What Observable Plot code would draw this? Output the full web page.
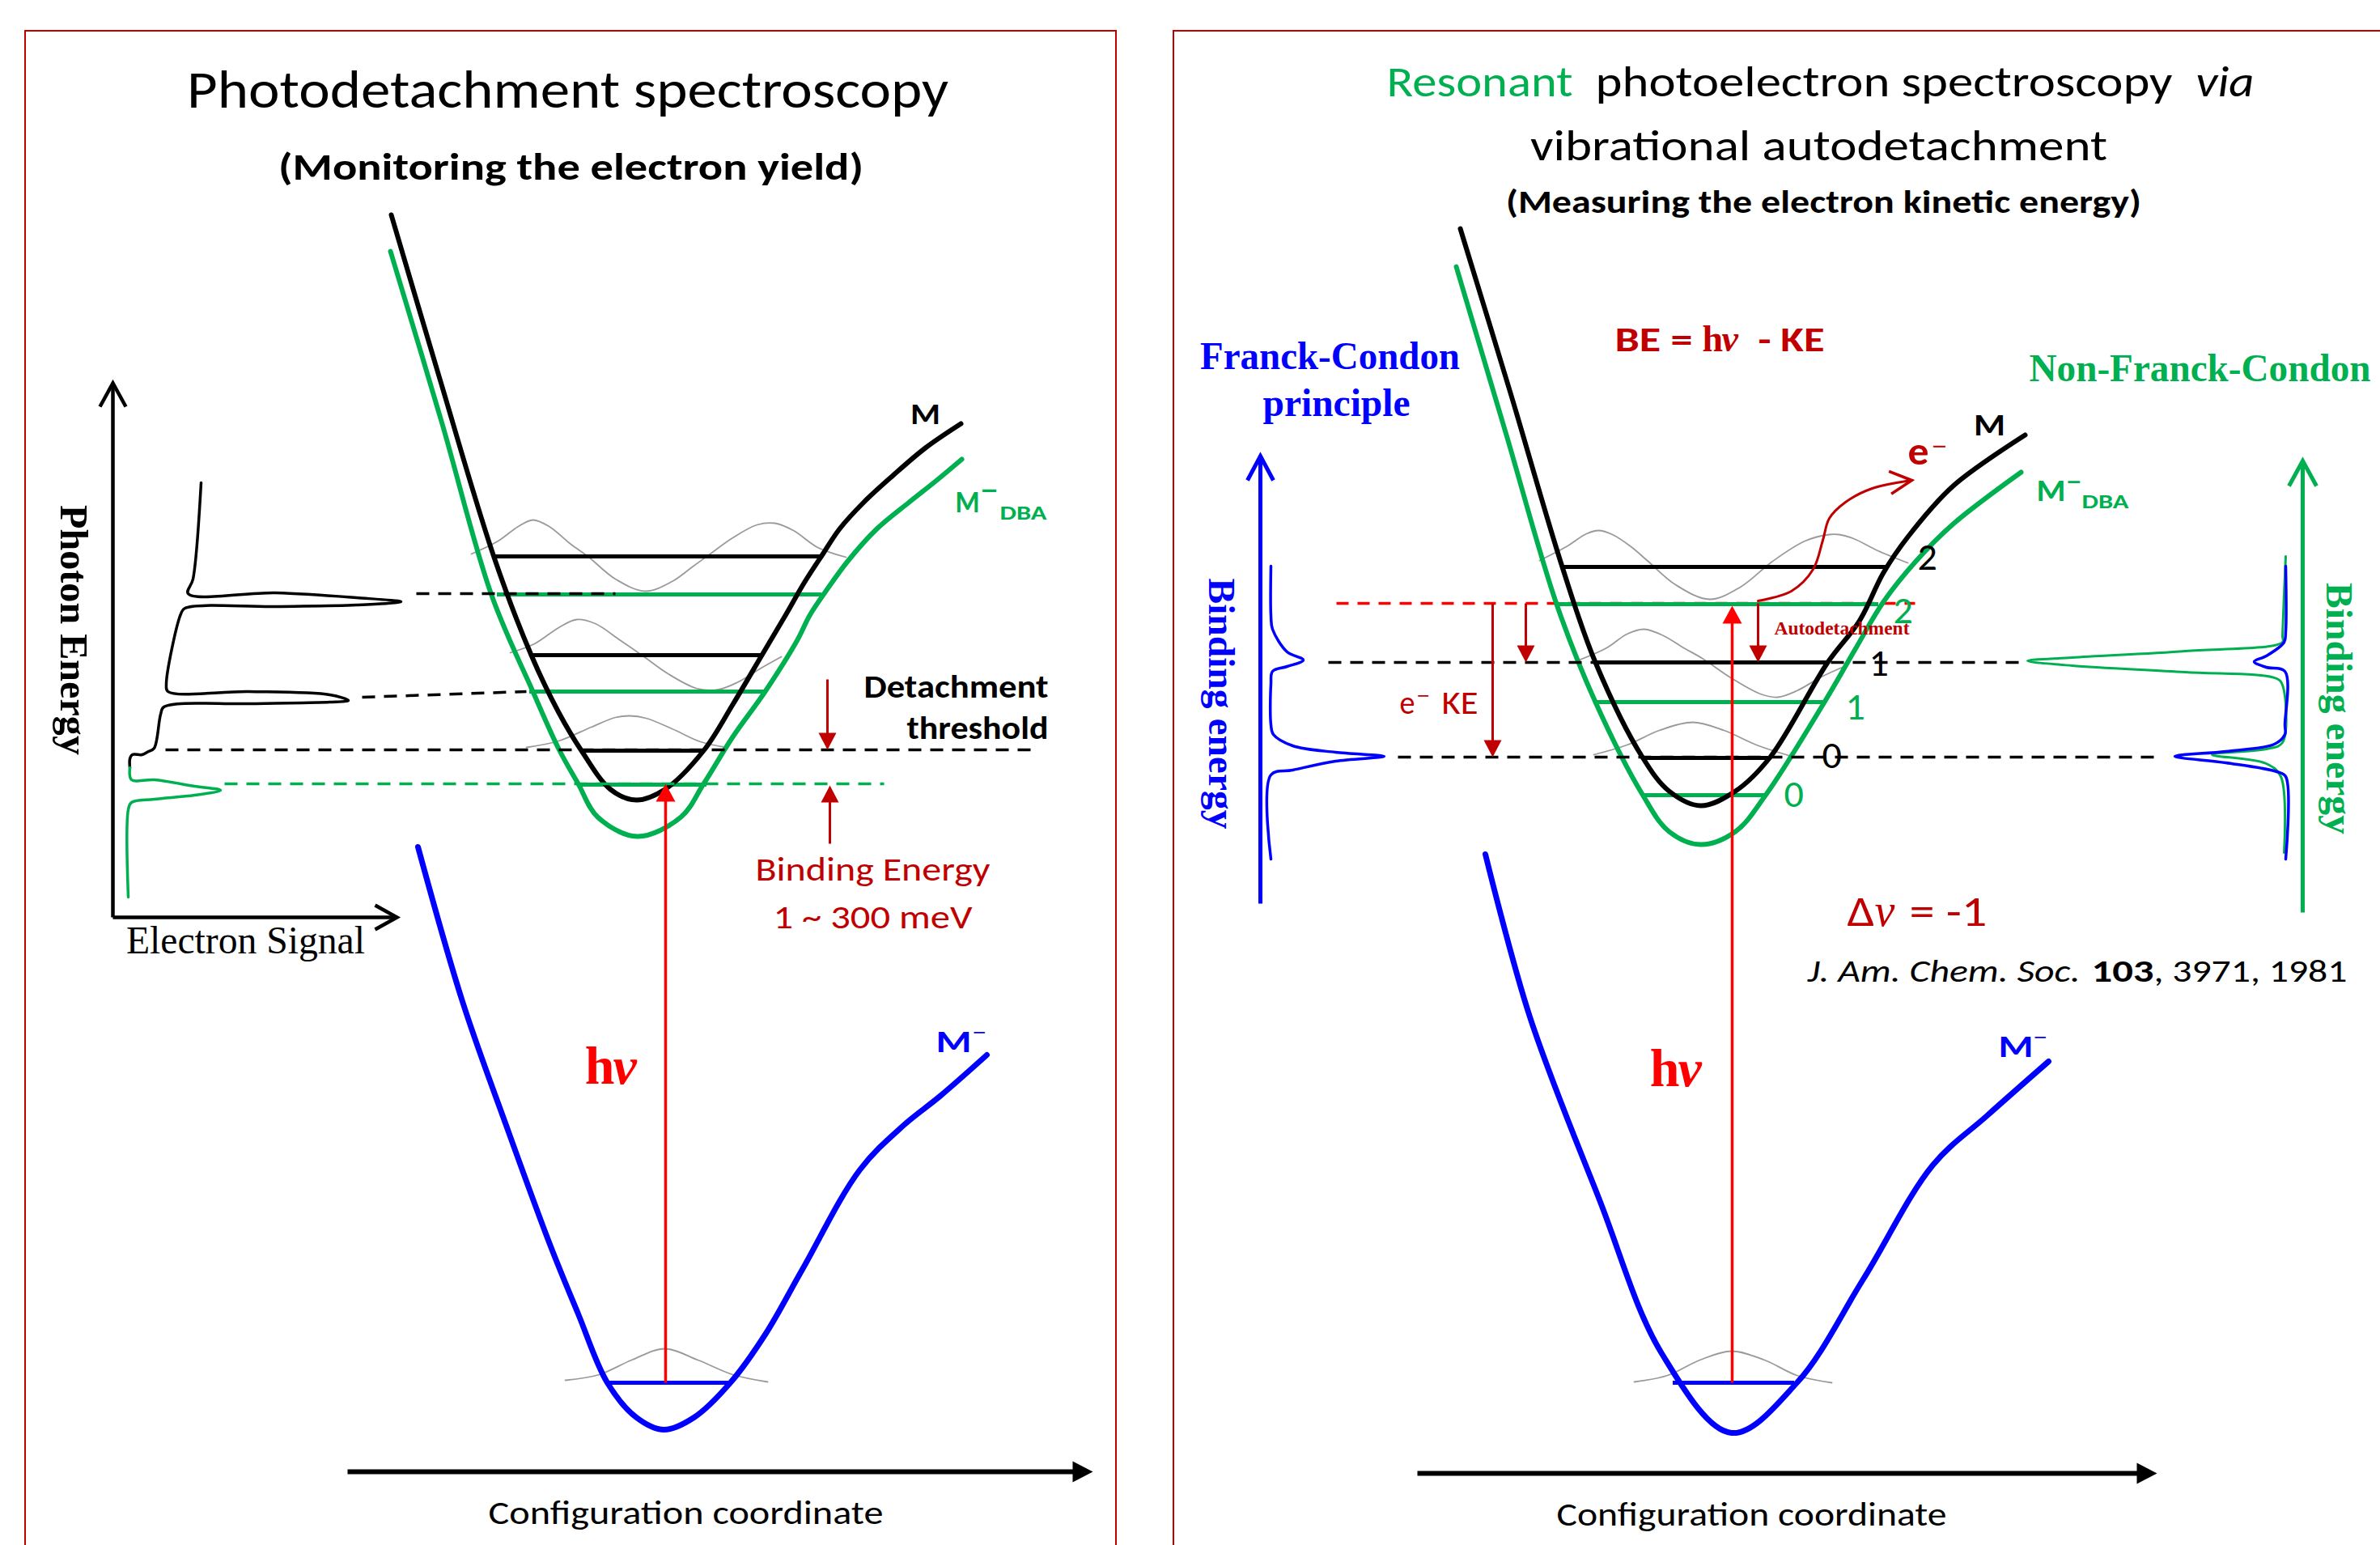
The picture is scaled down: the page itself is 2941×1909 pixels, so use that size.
<!DOCTYPE html>
<html><head><meta charset="utf-8">
<script src="https://cdn.jsdelivr.net/npm/d3@7"></script>
<script src="https://cdn.jsdelivr.net/npm/@observablehq/plot@0.6"></script>
<style>body{margin:0;background:#fff}</style>
</head><body><div id="chart"></div>
<script>
// ---------- DATA (diagram coordinates) ----------
// Left panel: potential curves
const leftNeutral = [[483,265],[541,461],[610,688],[656,809],[690,880],[718,927],[754,975],[786,988],[821,975],[869,927],[905,870],[941,809],[970,760],[993,720],[1017,683],[1037,653],[1067,620],[1103,587],[1143,553],[1187,523]];
const leftDBA = [[482,310],[545,520],[607,735],[658,854],[690,925],[714,968],[738,1009],[787,1033],[841,1009],[869,968],[905,910],[945,854],[985,790],[1000,760],[1020,730],[1047,693],[1083,653],[1123,620],[1157,593],[1188,567]];
const leftAnion = [[516,1046],[571,1237],[625,1390],[679,1537],[714,1623],[750,1708],[786,1751],[820,1766],[857,1751],[902,1708],[946,1647],[991,1568],[1062,1445],[1116,1390],[1161,1354],[1219,1303]];
// Right panel: potential curves
const rightNeutral = [[1804,282],[1866,485],[1930,700],[1971,818],[2029,935],[2062,977],[2101,995],[2144,977],[2187,935],[2258,818],[2297,767],[2327,707],[2357,663],[2413,600],[2502,537]];
const rightDBA = [[1799,329],[1861,537],[1923,746],[1971,867],[2029,981],[2062,1027],[2101,1043],[2144,1027],[2182,981],[2254,867],[2293,800],[2327,743],[2367,693],[2413,647],[2497,583]];
const rightAnion = [[1835,1055],[1890,1256],[1976,1482],[2053,1672],[2139,1770],[2220,1708],[2302,1580],[2388,1439],[2455,1378],[2531,1311]];
// Vibrational levels {y, x1, x2}
const levelsNeutral = [{y:687,x1:610,x2:1013},{y:809,x1:658,x2:941},{y:927,x1:718,x2:869},
                       {y:700,x1:1930,x2:2330},{y:818,x1:1971,x2:2258},{y:936,x1:2029,x2:2187}];
const levelsDBA = [{y:734,x1:614,x2:1015},{y:854,x1:654,x2:945},{y:969,x1:718,x2:873},
                   {y:746,x1:1923,x2:2321},{y:867,x1:1971,x2:2254},{y:982,x1:2029,x2:2182}];
const levelsAnion = [{y:1708,x1:748,x2:904},{y:1708,x1:2067,x2:2217}];
// Vibrational wavefunctions (grey)
const wavefunctions = [
  [[582,684],[615,668],[640,650],[658,642],[678,650],[705,672],[726,687],[760,715],[797,730],[830,718],[855,700],[877,684],[905,664],[935,648],[957,646],[980,655],[1010,676],[1045,688]],
  [[630,806],[660,795],[690,775],[712,765],[735,770],[765,790],[794,810],[825,832],[860,850],[885,852],[910,843],[940,825],[965,811]],
  [[650,923],[690,915],[730,898],[760,886],[778,884],[798,887],[830,900],[865,916],[897,923]],
  [[698,1705],[740,1698],[780,1680],[821,1666],[862,1680],[905,1698],[948,1707]],
  [[1902,692],[1935,675],[1960,659],[1975,655],[1992,660],[2015,675],[2036,693],[2070,722],[2112,740],[2150,725],[2190,693],[2230,668],[2260,660],[2272,660],[2290,665],[2320,680],[2357,695]],
  [[1951,815],[1985,800],[2010,783],[2031,777],[2055,785],[2080,800],[2103,813],[2140,838],[2175,857],[2196,861],[2220,853],[2250,836],[2281,822]],
  [[1969,932],[2010,920],[2050,902],[2091,892],[2130,902],[2170,920],[2210,933]],
  [[2019,1707],[2060,1699],[2100,1680],[2139,1669],[2180,1680],[2220,1699],[2263,1708]]
];
// Spectra
const yieldBlack = [[248,596],[238,715],[232,733],[340,732],[440,738],[495,743],[440,747],[340,749],[228,751],[223,758],[205,845],[207,854],[307,854],[407,858],[430,865],[407,867],[307,869],[202,873],[198,882],[190,924],[183,928],[175,932],[163,932],[160,937],[160,948]];
const yieldGreen = [[160,948],[162,963],[190,963],[240,971],[272,976],[240,982],[190,987],[162,991],[158,1000],[158,1108]];
const fcBlue = [[1570,699],[1570,760],[1572,777],[1590,805],[1610,815],[1590,823],[1572,829],[1570,845],[1570,895],[1573,907],[1597,921],[1650,929],[1710,934],[1650,940],[1597,951],[1570,957],[1570,1061]];
const nfcBlue = [[2824,699],[2824,780],[2822,793],[2800,810],[2785,817],[2800,824],[2823,829],[2823,895],[2823,907],[2810,919],[2750,928],[2687,934],[2750,942],[2813,953],[2824,959],[2824,1061]];
const nfcGreen = [[2824,687],[2820,785],[2820,793],[2700,804],[2560,812],[2505,816],[2560,822],[2700,830],[2813,838],[2820,846],[2820,917],[2800,925],[2733,932],[2800,943],[2818,959],[2822,1053]];
// Dashed guide lines
const dashBlack = [{x1:514,y1:733,x2:760,y2:733},{x1:447,y1:861,x2:650,y2:854},{x1:204,y1:926,x2:1280,y2:926},
                   {x1:1641,y1:818,x2:2498,y2:818},{x1:1727,y1:935,x2:2670,y2:935}];
const dashGreen = [{x1:277,y1:968,x2:1092,y2:968}];
const dashRed = [{x1:1651,y1:745,x2:2366,y2:745}];
// Autodetachment electron path
const electronPath = [[2172,742],[2213,730],[2240,703],[2252,667],[2260,640],[2280,620],[2313,603],[2362,593]];
// Arrows
const hvArrows = [{x:822,y1:1708,y2:968},{x:2140,y1:1708,y2:748}];
const downArrows = [{x:1022,y1:839,y2:926},{x:2172,y1:745,y2:818},{x:1885,y1:745,y2:818},{x:1844,y1:745,y2:935}];
const upArrows = [{x:1025,y1:1042,y2:970}];
const configAxes = [{y:1818,x1:429,x2:1350},{y:1820,x1:1751,x2:2665}];
const energyAxesBlack = [{x:139,y1:1133,y2:473}];
const signalAxis = [{y:1133,x1:139,x2:490}];
const beAxisBlue = [{x:1557,y1:1116,y2:563}];
const beAxisGreen = [{x:2845,y1:1127,y2:569}];
const panels = [{x1:31,x2:1379,y1:38,y2:1960},{x1:1450,x2:2990,y1:38,y2:1960}];
const levelLabels = [{t:"2",x:2369,y:703,c:"#000"},{t:"2",x:2339,y:769,c:"#00b050"},{t:"1",x:2309,y:834,c:"#000"},
                     {t:"1",x:2280,y:888,c:"#00b050"},{t:"0",x:2251,y:948,c:"#000"},{t:"0",x:2204,y:996,c:"#00b050"}];

// ---------- STYLE ----------
const W = 2941, H = 1909;
const SANS = "Carlito, Lato, 'Open Sans', sans-serif";
const SERIF = "'Liberation Serif', 'DejaVu Serif', serif";
const GREEN = "#00b050", BLUE = "#0000ff", RED = "#ff0000", DRED = "#c00000", GREY = "#9a9a9a";

const X = d => d[0], Y = d => d[1];
const curve = (data, o) => Plot.line(data, {x: X, y: Y, curve: "catmull-rom", strokeLinejoin: "round", strokeLinecap: "round", ...o});

// arrowhead symbols with the tip at the anchor point
function head(angleDeg, len, half, closed) {
  const a = angleDeg * Math.PI / 180, ux = Math.cos(a), uy = Math.sin(a), px = -uy, py = ux;
  return {draw(ctx) {
    const bx = -ux * len, by = -uy * len;
    ctx.moveTo(bx + px * half, by + py * half);
    ctx.lineTo(0, 0);
    ctx.lineTo(bx - px * half, by - py * half);
    if (closed) ctx.closePath();
  }};
}
// text helper; w = rendered width in px (applied as textLength after rendering)
const label = (t, x, y, o, w) => Plot.text([t], {x: () => x, y: () => y, text: d => d, lineAnchor: "bottom", fontFamily: SANS, fill: "#000", ...o, ...(w ? {ariaDescription: "tl:" + w} : {})});

const marks = [
  Plot.rect(panels, {x1: "x1", x2: "x2", y1: "y1", y2: "y2", fill: "none", stroke: DRED, strokeWidth: 2}),
  ...wavefunctions.map(w => curve(w, {stroke: GREY, strokeWidth: 1.8})),
  Plot.link(dashRed, {x1: "x1", y1: "y1", x2: "x2", y2: "y2", stroke: RED, strokeWidth: 3.5, strokeDasharray: "15,11"}),
  Plot.ruleY(levelsNeutral, {y: "y", x1: "x1", x2: "x2", stroke: "#000", strokeWidth: 5}),
  Plot.ruleY(levelsDBA, {y: "y", x1: "x1", x2: "x2", stroke: GREEN, strokeWidth: 5}),
  Plot.ruleY(levelsAnion, {y: "y", x1: "x1", x2: "x2", stroke: BLUE, strokeWidth: 5}),
  curve(leftDBA, {stroke: GREEN, strokeWidth: 6}),
  curve(leftNeutral, {stroke: "#000", strokeWidth: 6}),
  curve(leftAnion, {stroke: BLUE, strokeWidth: 7}),
  curve(rightDBA, {stroke: GREEN, strokeWidth: 6}),
  curve(rightNeutral, {stroke: "#000", strokeWidth: 6}),
  curve(rightAnion, {stroke: BLUE, strokeWidth: 7}),
  Plot.link(dashBlack, {x1: "x1", y1: "y1", x2: "x2", y2: "y2", stroke: "#000", strokeWidth: 3.5, strokeDasharray: "16,11"}),
  Plot.link(dashGreen, {x1: "x1", y1: "y1", x2: "x2", y2: "y2", stroke: GREEN, strokeWidth: 3.5, strokeDasharray: "16,11"}),
  curve(yieldBlack, {stroke: "#000", strokeWidth: 3.5}),
  curve(yieldGreen, {stroke: GREEN, strokeWidth: 3.5}),
  curve(fcBlue, {stroke: BLUE, strokeWidth: 3.5}),
  curve(nfcGreen, {stroke: GREEN, strokeWidth: 3}),
  curve(nfcBlue, {stroke: BLUE, strokeWidth: 3.5}),
  Plot.link(energyAxesBlack, {x1: "x", x2: "x", y1: "y1", y2: "y2", stroke: "#000", strokeWidth: 4.5}),
  Plot.dot(energyAxesBlack, {x: "x", y: "y2", symbol: head(-90, 29, 16, false), fill: "none", stroke: "#000", strokeWidth: 4.5}),
  Plot.link(signalAxis, {x1: "x1", x2: "x2", y1: "y", y2: "y", stroke: "#000", strokeWidth: 4.5}),
  Plot.dot(signalAxis, {x: "x2", y: "y", symbol: head(0, 27, 15, false), fill: "none", stroke: "#000", strokeWidth: 4.5}),
  Plot.link(beAxisBlue, {x1: "x", x2: "x", y1: "y1", y2: "y2", stroke: BLUE, strokeWidth: 5}),
  Plot.dot(beAxisBlue, {x: "x", y: "y2", symbol: head(-90, 30, 16, false), fill: "none", stroke: BLUE, strokeWidth: 5}),
  Plot.link(beAxisGreen, {x1: "x", x2: "x", y1: "y1", y2: "y2", stroke: GREEN, strokeWidth: 5}),
  Plot.dot(beAxisGreen, {x: "x", y: "y2", symbol: head(-90, 31, 17, false), fill: "none", stroke: GREEN, strokeWidth: 5}),
  Plot.link(configAxes, {x1: "x1", x2: d => d.x2 - 12, y1: "y", y2: "y", stroke: "#000", strokeWidth: 6}),
  Plot.dot(configAxes, {x: "x2", y: "y", symbol: head(0, 25, 13, true), fill: "#000", stroke: "none"}),
  Plot.link(hvArrows, {x1: "x", x2: "x", y1: "y1", y2: d => d.y2 + 10, stroke: RED, strokeWidth: 3.5}),
  Plot.dot(hvArrows, {x: "x", y: "y2", symbol: head(-90, 22, 12, true), fill: RED, stroke: "none"}),
  Plot.link(downArrows, {x1: "x", x2: "x", y1: "y1", y2: d => d.y2 - 10, stroke: DRED, strokeWidth: 3}),
  Plot.dot(downArrows, {x: "x", y: "y2", symbol: head(90, 21, 11, true), fill: DRED, stroke: "none"}),
  Plot.link(upArrows, {x1: "x", x2: "x", y1: "y1", y2: d => d.y2 + 10, stroke: DRED, strokeWidth: 3}),
  Plot.dot(upArrows, {x: "x", y: "y2", symbol: head(-90, 21, 11, true), fill: DRED, stroke: "none"}),
  curve(electronPath, {stroke: DRED, strokeWidth: 3}),
  Plot.dot([electronPath[electronPath.length - 1]], {x: X, y: Y, symbol: head(-6, 27, 14, false), fill: "none", stroke: DRED, strokeWidth: 3.5}),

  // ---------- TEXT: left panel ----------
  label("Photodetachment spectroscopy", 701, 132, {fontSize: 66, textAnchor: "middle"}, 941),
  label("(Monitoring the electron yield)", 705, 221, {fontSize: 47, fontWeight: "bold", textAnchor: "middle"}, 723),
  label("M", 1143, 523, {fontSize: 36, fontWeight: "bold", textAnchor: "middle"}, 37),
  label("M", 1180, 632, {fontSize: 38, fontWeight: "bold", textAnchor: "start", fill: GREEN}, 30),
  label("\u2212", 1211, 616, {fontSize: 34, fontWeight: "bold", textAnchor: "start", fill: GREEN}, 22),
  label("DBA", 1235, 641, {fontSize: 25, fontWeight: "bold", textAnchor: "start", fill: GREEN}, 58),
  label("Detachment", 1295, 861, {fontSize: 41, fontWeight: "bold", textAnchor: "end"}, 228),
  label("threshold", 1295, 912, {fontSize: 41, fontWeight: "bold", textAnchor: "end"}, 175),
  label("Binding Energy", 1078, 1087, {fontSize: 42, textAnchor: "middle", fill: DRED}, 290),
  label("1 ~ 300 meV", 1078, 1146, {fontSize: 42, textAnchor: "middle", fill: DRED}, 246),
  label("Photon Energy", 90, 778, {fontSize: 48, fontFamily: SERIF, fontWeight: "bold", textAnchor: "middle", lineAnchor: "middle", rotate: 90}, 309),
  label("Electron Signal", 303, 1177, {fontSize: 48, fontFamily: SERIF, textAnchor: "middle"}, 295),
  label("h", 759, 1338, {fontSize: 66, fontFamily: SERIF, fontWeight: "bold", textAnchor: "end", fill: RED}),
  label("\u03bd", 757, 1338, {fontSize: 66, fontFamily: SERIF, fontWeight: "bold", fontStyle: "italic", textAnchor: "start", fill: RED}),
  label("M", 1156, 1299, {fontSize: 38, fontWeight: "bold", textAnchor: "start", fill: BLUE}, 44),
  label("\u2212", 1201, 1283, {fontSize: 26, textAnchor: "start", fill: BLUE}, 18),
  label("Configuration coordinate", 847, 1882, {fontSize: 42, textAnchor: "middle"}, 488),

  // ---------- TEXT: right panel ----------
  label("Resonant", 1713, 118, {fontSize: 53, textAnchor: "start", fill: GREEN}, 230),
  label("photoelectron spectroscopy", 1971, 118, {fontSize: 53, textAnchor: "start"}, 713),
  label("via", 2713, 118, {fontSize: 53, fontStyle: "italic", textAnchor: "start"}, 72),
  label("vibrational autodetachment", 2247, 197, {fontSize: 53, textAnchor: "middle"}, 713),
  label("(Measuring the electron kinetic energy)", 2253, 262, {fontSize: 40, fontWeight: "bold", textAnchor: "middle"}, 785),
  label("Franck-Condon", 1643, 455, {fontSize: 48, fontFamily: SERIF, fontWeight: "bold", textAnchor: "middle", fill: BLUE}, 321),
  label("principle", 1651, 513, {fontSize: 48, fontFamily: SERIF, fontWeight: "bold", textAnchor: "middle", fill: BLUE}, 182),
  label("BE =", 1995, 433, {fontSize: 42, fontWeight: "bold", textAnchor: "start", fill: DRED}, 96),
  label("h", 2103, 433, {fontSize: 46, fontFamily: SERIF, fontWeight: "bold", textAnchor: "start", fill: DRED}),
  label("\u03bd", 2127, 433, {fontSize: 46, fontFamily: SERIF, fontWeight: "bold", fontStyle: "italic", textAnchor: "start", fill: DRED}),
  label("- KE", 2172, 433, {fontSize: 42, fontWeight: "bold", textAnchor: "start", fill: DRED}, 82),
  label("Non-Franck-Condon", 2718, 470, {fontSize: 48, fontFamily: SERIF, fontWeight: "bold", textAnchor: "middle", fill: GREEN}, 422),
  label("M", 2458, 537, {fontSize: 38, fontWeight: "bold", textAnchor: "middle"}, 39),
  label("e", 2357, 573, {fontSize: 48, fontWeight: "bold", textAnchor: "start", fill: DRED}, 26),
  label("\u2212", 2386, 560, {fontSize: 30, textAnchor: "start", fill: DRED}, 20),
  label("M", 2516, 618, {fontSize: 38, fontWeight: "bold", textAnchor: "start", fill: GREEN}, 36),
  label("\u2212", 2553, 604, {fontSize: 30, fontWeight: "bold", textAnchor: "start", fill: GREEN}, 19),
  label("DBA", 2572, 627, {fontSize: 25, fontWeight: "bold", textAnchor: "start", fill: GREEN}, 58),
  Plot.text(levelLabels, {x: "x", y: "y", text: "t", fill: "c", fontSize: 48, fontFamily: SANS, textAnchor: "start", lineAnchor: "bottom"}),
  label("Autodetachment", 2192, 783, {fontSize: 24, fontFamily: SERIF, fontWeight: "bold", textAnchor: "start", fill: DRED}, 167),
  label("e", 1729, 881, {fontSize: 42, textAnchor: "start", fill: DRED}, 19),
  label("\u2212", 1750, 867, {fontSize: 26, textAnchor: "start", fill: DRED}, 17),
  label("KE", 1781, 881, {fontSize: 42, textAnchor: "start", fill: DRED}, 45),
  label("Binding energy", 1509, 869, {fontSize: 47, fontFamily: SERIF, fontWeight: "bold", textAnchor: "middle", lineAnchor: "middle", rotate: 90, fill: BLUE}, 310),
  label("Binding energy", 2890, 875, {fontSize: 47, fontFamily: SERIF, fontWeight: "bold", textAnchor: "middle", lineAnchor: "middle", rotate: 90, fill: GREEN}, 311),
  label("\u0394", 2282, 1143, {fontSize: 54, textAnchor: "start", fill: DRED}, 34),
  label("\u03bd", 2316, 1143, {fontSize: 56, fontFamily: SERIF, fontStyle: "italic", textAnchor: "start", fill: DRED}),
  label("= -1", 2359, 1143, {fontSize: 54, textAnchor: "start", fill: DRED}, 96),
  label("J. Am. Chem. Soc.", 2233, 1212, {fontSize: 38, fontStyle: "italic", textAnchor: "start"}, 337),
  label("103", 2584, 1212, {fontSize: 38, fontWeight: "bold", textAnchor: "start"}, 77),
  label(", 3971, 1981", 2661, 1212, {fontSize: 38, textAnchor: "start"}, 239),
  label("h", 2075, 1341, {fontSize: 66, fontFamily: SERIF, fontWeight: "bold", textAnchor: "end", fill: RED}),
  label("\u03bd", 2073, 1341, {fontSize: 66, fontFamily: SERIF, fontWeight: "bold", fontStyle: "italic", textAnchor: "start", fill: RED}),
  label("M", 2469, 1305, {fontSize: 38, fontWeight: "bold", textAnchor: "start", fill: BLUE}, 43),
  label("\u2212", 2512, 1289, {fontSize: 26, textAnchor: "start", fill: BLUE}, 18),
  label("Configuration coordinate", 2164, 1884, {fontSize: 42, textAnchor: "middle"}, 482)
];

const chart = Plot.plot({
  width: W, height: H, margin: 0,
  x: {domain: [0, W], range: [0, W], axis: null},
  y: {domain: [0, H], range: [0, H], axis: null},
  style: {background: "#fff", overflow: "hidden"},
  marks
});
// apply measured text widths
chart.querySelectorAll("g[aria-description^='tl:']").forEach(g => {
  const w = g.getAttribute("aria-description").slice(3);
  g.querySelectorAll("text").forEach(t => {
    t.setAttribute("textLength", w);
    t.setAttribute("lengthAdjust", "spacingAndGlyphs");
  });
});
document.getElementById("chart").appendChild(chart);
</script>
</body></html>
